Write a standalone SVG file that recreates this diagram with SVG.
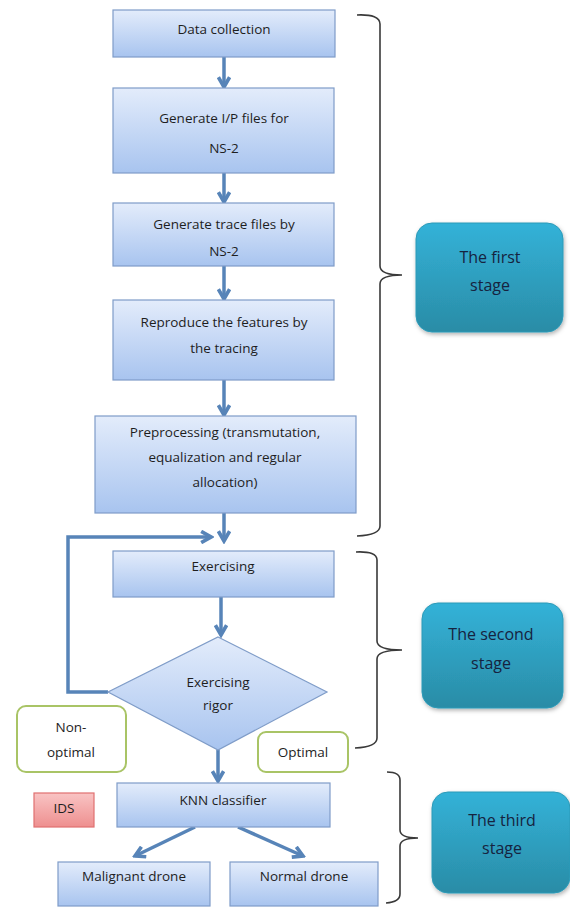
<svg xmlns="http://www.w3.org/2000/svg" width="570" height="907" viewBox="0 0 570 907">
<defs>
<linearGradient id="gBox" x1="0" y1="0" x2="0" y2="1"><stop offset="0" stop-color="#e3ecfb"/><stop offset="1" stop-color="#a8c4ef"/></linearGradient>
<linearGradient id="gTeal" x1="0" y1="0" x2="0" y2="1"><stop offset="0" stop-color="#33b2d8"/><stop offset="1" stop-color="#2a8ca6"/></linearGradient>
<linearGradient id="gRed" x1="0" y1="0" x2="0" y2="1"><stop offset="0" stop-color="#f9c4c4"/><stop offset="1" stop-color="#ee8f8f"/></linearGradient>
<filter id="sh" x="-10%" y="-10%" width="130%" height="130%"><feDropShadow dx="1" dy="2" stdDeviation="2" flood-color="#000" flood-opacity="0.3"/></filter>
<marker id="ah" viewBox="0 0 10 10" refX="8" refY="5" markerWidth="14" markerHeight="14" markerUnits="userSpaceOnUse" orient="auto">
<path d="M1,1 L8,5 L1,9" fill="none" stroke="#5784b8" stroke-width="2.6" stroke-linejoin="miter"/>
</marker>
<style>
.box{fill:url(#gBox);stroke:#7f9cc8;stroke-width:1.2}
.t{font-family:"Open Sans","Liberation Sans",sans-serif;font-size:13.5px;fill:#1e1e1e;text-anchor:middle;dominant-baseline:central}
.st{font-family:"Open Sans","Liberation Sans",sans-serif;font-size:16px;fill:#16233f;text-anchor:middle;dominant-baseline:central}
.stage{fill:url(#gTeal);stroke:#2c9ab8;stroke-width:1;filter:url(#sh)}
.lbl{fill:#fff;stroke:#a9c466;stroke-width:2}
.con{fill:none;stroke:#5784b8;stroke-width:3.5;marker-end:url(#ah)}
.brace{fill:none;stroke:#3a3a3a;stroke-width:1.6}
</style>
</defs>
<rect width="570" height="907" fill="#fff"/>

<g id="connectors">
<line class="con" x1="224" y1="57" x2="224" y2="87"/>
<line class="con" x1="224" y1="173" x2="224" y2="202"/>
<line class="con" x1="224" y1="266" x2="224" y2="299"/>
<line class="con" x1="224" y1="380" x2="224" y2="415"/>
<line class="con" x1="224" y1="513" x2="224" y2="541"/>
<polyline class="con" points="108,692 68,692 68,537 211,537"/>
<line class="con" x1="221" y1="597" x2="221" y2="635"/>
<line class="con" x1="218" y1="750" x2="218" y2="781"/>
<line class="con" x1="195" y1="827" x2="135" y2="856"/>
<line class="con" x1="238" y1="827" x2="303" y2="856"/>
</g>

<g id="braces">
<path class="brace" d="M357,15 Q380,14 380,24 V266 Q380,275 402,275 Q380,275 380,284 V526 Q380,535 357,536"/>
<path class="brace" d="M356,552 Q377,551 377,560 V641 Q377,650 402,650 Q377,650 377,659 V738 Q377,747 355,748"/>
<path class="brace" d="M387,772 Q400,772 400,780 V830 Q400,838 418,838 Q400,838 400,846 V894 Q400,902 386,903"/>
</g>

<g id="n1"><rect class="box" x="113" y="10" width="222" height="47"/><text class="t" x="224" y="29">Data collection</text></g>
<g id="n2"><rect class="box" x="113" y="88" width="221" height="85"/><text class="t" x="224" y="118">Generate I/P files for</text><text class="t" x="224" y="148">NS-2</text></g>
<g id="n3"><rect class="box" x="113" y="203" width="221" height="63"/><text class="t" x="224" y="224">Generate trace files by</text><text class="t" x="224" y="251">NS-2</text></g>
<g id="n4"><rect class="box" x="113" y="300" width="221" height="80"/><text class="t" x="224" y="322">Reproduce the features by</text><text class="t" x="224" y="348">the tracing</text></g>
<g id="n5"><rect class="box" x="95" y="416" width="261" height="97"/><text class="t" x="225" y="432">Preprocessing (transmutation,</text><text class="t" x="225" y="457">equalization  and regular</text><text class="t" x="225" y="482">allocation)</text></g>
<g id="n6"><rect class="box" x="113" y="551" width="221" height="46"/><text class="t" x="223" y="566">Exercising</text></g>
<g id="n7"><polygon class="box" points="218,637 327,692 218,750 108,692"/><text class="t" x="218" y="682">Exercising</text><text class="t" x="218" y="705">rigor</text></g>
<g id="n8"><rect class="lbl" x="17" y="706" width="109" height="66" rx="9"/><text class="t" x="71" y="727" font-size="12.5">Non-</text><text class="t" x="71" y="752" font-size="12.5">optimal</text></g>
<g id="n9"><rect class="lbl" x="258" y="732" width="90" height="40" rx="8"/><text class="t" x="303" y="752" font-size="12.5">Optimal</text></g>
<g id="n10"><rect class="box" x="117" y="783" width="213" height="44"/><text class="t" x="223" y="800">KNN classifier</text></g>
<g id="n11"><rect x="34" y="793" width="60" height="34" fill="url(#gRed)" stroke="#e07070" stroke-width="1.2"/><text class="t" x="64" y="808" font-size="12">IDS</text></g>
<g id="n12"><rect class="box" x="58" y="862" width="152" height="44"/><text class="t" x="134" y="876">Malignant drone</text></g>
<g id="n13"><rect class="box" x="230" y="862" width="148" height="44"/><text class="t" x="304" y="876">Normal drone</text></g>

<g id="s1"><rect class="stage" x="416" y="223" width="147" height="109" rx="16"/><text class="st" x="490" y="257">The first</text><text class="st" x="490" y="285">stage</text></g>
<g id="s2"><rect class="stage" x="422" y="603" width="141" height="105" rx="16"/><text class="st" x="491" y="634">The second</text><text class="st" x="491" y="663">stage</text></g>
<g id="s3"><rect class="stage" x="432" y="792" width="138" height="101" rx="16"/><text class="st" x="502" y="820">The third</text><text class="st" x="502" y="848">stage</text></g>
</svg>
